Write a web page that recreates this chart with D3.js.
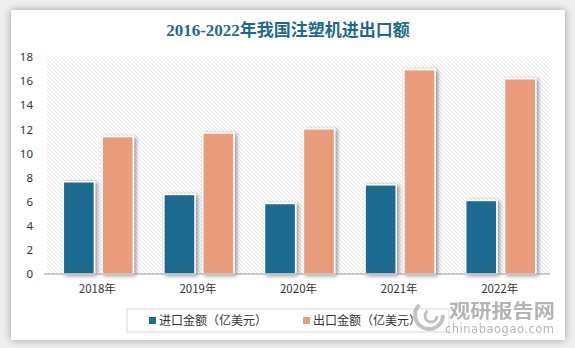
<!DOCTYPE html>
<html><head><meta charset="utf-8">
<script src="https://cdn.jsdelivr.net/npm/d3@7"></script>
<style>
html,body{margin:0;padding:0;background:#ececec;}
svg{display:block;}
</style></head>
<body>
<svg id="chart" width="575" height="348"></svg>
<script>
const years = ["2018年", "2019年", "2020年", "2021年", "2022年"];
const importValues = [7.65, 6.6, 5.85, 7.4, 6.1];
const exportValues = [11.4, 11.7, 12.05, 16.95, 16.2];
const seriesNames = ["进口金额（亿美元）", "出口金额（亿美元）"];
const seriesColors = ["#1b6b90", "#e89c7b"];
const yTicks = [0, 2, 4, 6, 8, 10, 12, 14, 16, 18];

const svg = d3.select("#chart");
const W = 575, H = 348;
const defs = svg.append("defs");

// card shadow
const cardShadow = defs.append("filter").attr("id", "cardShadow")
  .attr("x", "-5%").attr("y", "-5%").attr("width", "110%").attr("height", "110%");
cardShadow.append("feGaussianBlur").attr("in", "SourceAlpha").attr("stdDeviation", 4);
cardShadow.append("feOffset").attr("dx", 0).attr("dy", 0).attr("result", "b");
cardShadow.append("feComponentTransfer").append("feFuncA").attr("type", "linear").attr("slope", 0.35);
const m1 = cardShadow.append("feMerge");
m1.append("feMergeNode");
m1.append("feMergeNode").attr("in", "SourceGraphic");

// bar shadow
const barShadow = defs.append("filter").attr("id", "barShadow")
  .attr("x", "-30%").attr("y", "-10%").attr("width", "160%").attr("height", "120%");
barShadow.append("feGaussianBlur").attr("in", "SourceAlpha").attr("stdDeviation", 2);
barShadow.append("feOffset").attr("dx", 2).attr("dy", 1).attr("result", "off");
barShadow.append("feComponentTransfer").append("feFuncA").attr("type", "linear").attr("slope", 0.45);
const m2 = barShadow.append("feMerge");
m2.append("feMergeNode");
m2.append("feMergeNode").attr("in", "SourceGraphic");

// hatched plot background
const hatch = defs.append("pattern").attr("id", "hatch")
  .attr("patternUnits", "userSpaceOnUse").attr("width", 4).attr("height", 4);
hatch.append("rect").attr("width", 4).attr("height", 4).attr("fill", "#fff");
hatch.append("path").attr("d", "M-1,-1 L5,5 M-1,3 L1,5 M3,-1 L5,1")
  .attr("stroke", "#e2e2e2").attr("stroke-width", 0.9);

// background frame and card
svg.append("rect").attr("width", W).attr("height", H).attr("fill", "#efefef");
svg.append("rect").attr("x", 11).attr("y", 10).attr("width", 554).attr("height", 330)
  .attr("fill", "#fff").attr("filter", "url(#cardShadow)");

// title
svg.append("text").attr("x", 288).attr("y", 36).attr("text-anchor", "middle")
  .attr("font-family", "'Liberation Serif', 'Noto Sans CJK SC', serif")
  .attr("font-weight", "bold").attr("font-size", 17).attr("fill", "#1e6a8d")
  .text("2016-2022年我国注塑机进出口额");

const margin = {left: 47, right: 550, top: 57, bottom: 274};
const x = d3.scaleBand().domain(years).range([margin.left, margin.right]);
const y = d3.scaleLinear().domain([0, 18]).range([margin.bottom, margin.top]);
const inner = d3.scaleBand().domain([0, 1]).range([-35, 35]).paddingInner(0.2);

svg.append("rect").attr("x", margin.left).attr("y", margin.top)
  .attr("width", margin.right - margin.left).attr("height", margin.bottom - margin.top)
  .attr("fill", "url(#hatch)");

// y axis labels
const yAxis = d3.axisLeft(y).tickValues(yTicks).tickSize(0).tickPadding(0);
const yg = svg.append("g").attr("transform", "translate(33,0)").call(yAxis);
yg.select(".domain").remove();
yg.selectAll("text").attr("font-family", "'Noto Sans', 'DejaVu Sans', sans-serif")
  .attr("font-size", 11.5).attr("fill", "#333").attr("text-anchor", "end");

// bars
const data = years.map((yr, i) => ({year: yr, vals: [importValues[i], exportValues[i]]}));
const groups = svg.append("g").selectAll("g").data(data).join("g")
  .attr("transform", d => `translate(${x(d.year) + x.bandwidth() / 2 + 1},0)`);
groups.selectAll("rect").data(d => d.vals.map((v, k) => ({v, k}))).join("rect")
  .attr("x", d => inner(d.k))
  .attr("y", d => y(d.v))
  .attr("width", inner.bandwidth())
  .attr("height", d => y(0) - y(d.v))
  .attr("fill", d => seriesColors[d.k])
  .attr("stroke", "#fff").attr("stroke-width", 1.5)
  .attr("filter", "url(#barShadow)");

// x axis
const xAxis = d3.axisBottom(x).tickSize(0).tickPadding(11);
const xg = svg.append("g").attr("transform", `translate(0,${margin.bottom})`).call(xAxis);
xg.select(".domain").attr("stroke", "#999").attr("stroke-width", 1.2)
  .attr("d", `M${margin.left - 3},0H${margin.right}`);
xg.selectAll("text").attr("font-family", "'Noto Sans CJK SC', sans-serif")
  .attr("font-size", 11.5).attr("fill", "#333").attr("dx", 0);

// legend
const lg = svg.append("g");
lg.append("rect").attr("x", 127).attr("y", 309).attr("width", 322).attr("height", 23)
  .attr("fill", "#fff").attr("stroke", "#d8d8d8");
const legX = [149, 303];
seriesNames.forEach((n, i) => {
  lg.append("rect").attr("x", legX[i]).attr("y", 317).attr("width", 7).attr("height", 7)
    .attr("fill", seriesColors[i]);
  lg.append("text").attr("x", legX[i] + 10).attr("y", 325)
    .attr("font-family", "'Noto Sans CJK SC', sans-serif")
    .attr("font-size", 12).attr("fill", "#333").text(n);
});

// publisher mark
const wm = svg.append("g").attr("opacity", 0.8);
wm.append("circle").attr("cx", 429).attr("cy", 315).attr("r", 14)
  .attr("fill", "none").attr("stroke", "#b4b4b4").attr("stroke-width", 4)
  .attr("stroke-dasharray", "55 33");
wm.append("circle").attr("cx", 431).attr("cy", 316).attr("r", 6)
  .attr("fill", "none").attr("stroke", "#b4b4b4").attr("stroke-width", 3)
  .attr("stroke-dasharray", "24 13");
wm.append("text").attr("x", 449).attr("y", 318)
  .attr("font-family", "'Noto Sans CJK SC', sans-serif").attr("font-weight", "bold")
  .attr("font-size", 19).attr("fill", "#a2a2a2").attr("textLength", 106)
  .attr("lengthAdjust", "spacingAndGlyphs").text("观研报告网");
wm.append("text").attr("x", 445).attr("y", 333)
  .attr("font-family", "'DejaVu Sans', sans-serif")
  .attr("font-size", 11.5).attr("fill", "#a2a2a2").attr("textLength", 109).text("chinabaogao.com");
</script>
</body></html>
